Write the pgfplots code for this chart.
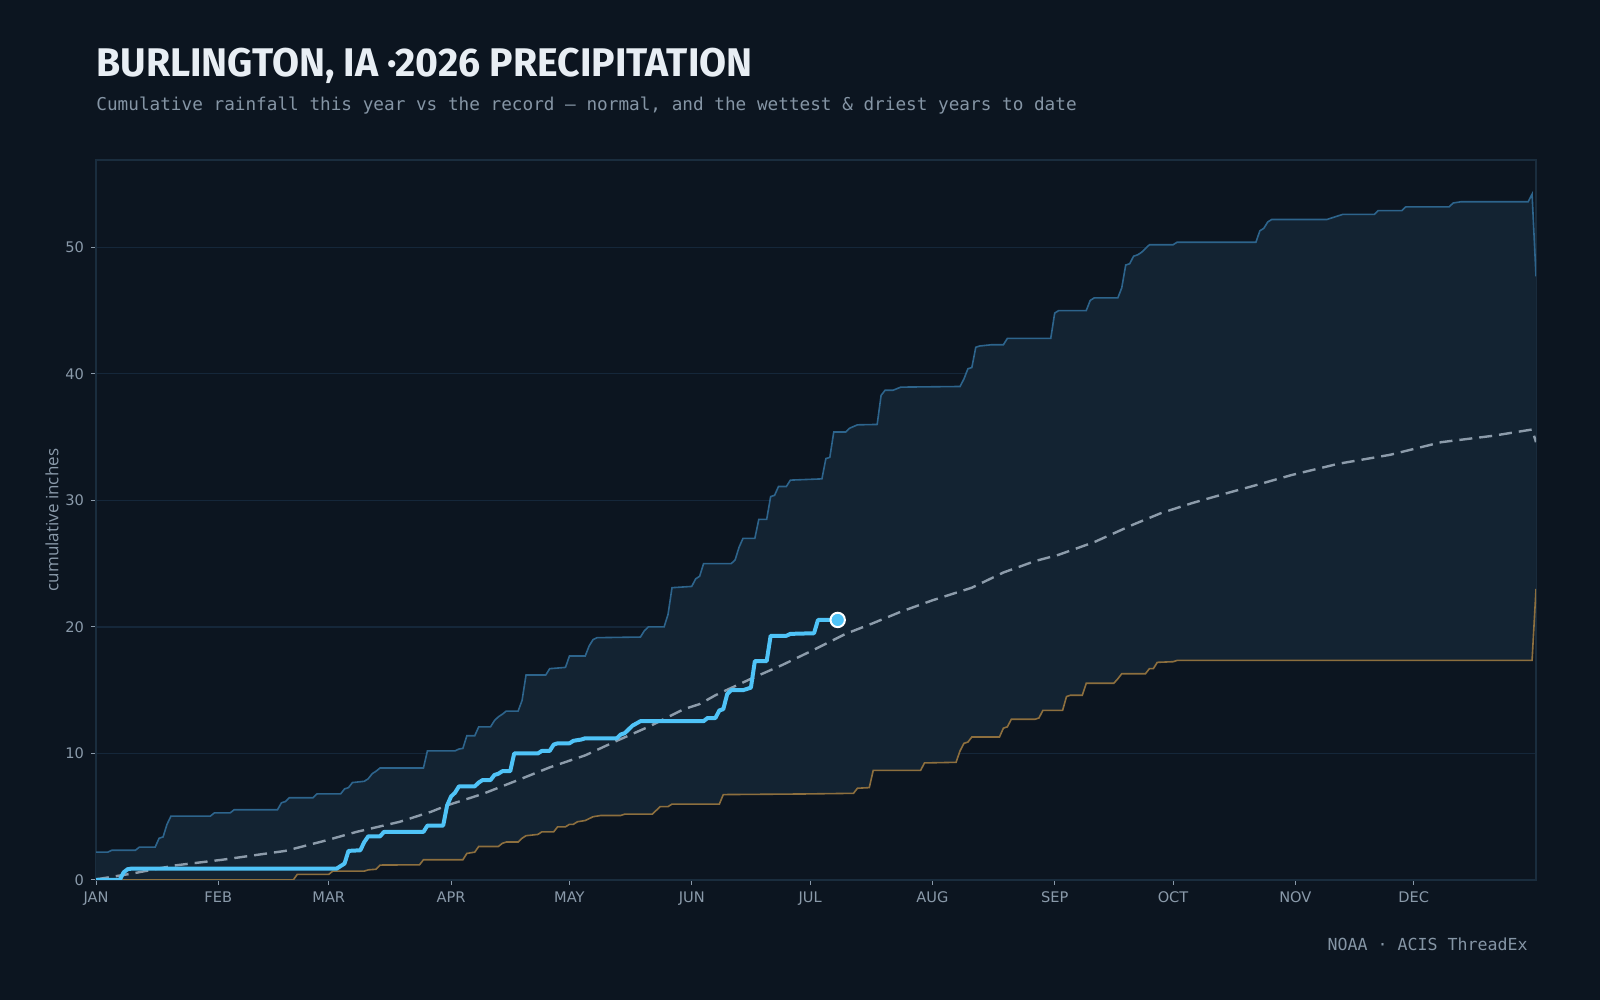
\documentclass[border=0pt]{standalone}
\usepackage{fontspec}
\usepackage{pgfplots}
\usepackage{pgfplotstable}
\pgfplotsset{compat=1.18}
\setmainfont{DejaVu Sans}
\newfontfamily\titlefont[FakeStretch=0.98]{Fira Sans}
\newfontfamily\monofont{DejaVu Sans Mono}
\newfontfamily\labelfont{Open Sans}

\definecolor{bg}{HTML}{0C1520}
\definecolor{band}{HTML}{132332}
\definecolor{gridc}{HTML}{15273A}
\definecolor{framec}{HTML}{1A2D3E}
\definecolor{wetc}{HTML}{2D648C}
\definecolor{dryc}{HTML}{8D6F3E}
\definecolor{normc}{HTML}{8C9BAA}
\definecolor{curc}{HTML}{4FC3F7}
\definecolor{tickc}{HTML}{8A9AAA}
\definecolor{titlec}{HTML}{E8EEF4}
\definecolor{subc}{HTML}{8595A5}

\pgfplotstableread{
d v
0 2.2
3 2.2
4 2.35
10 2.35
11 2.6
15 2.6
16 3.3
17 3.4
18 4.4
19 5.05
29 5.05
30 5.3
34 5.3
35 5.55
46 5.55
47 6.1
48 6.2
49 6.5
55 6.5
56 6.8
62 6.8
63 7.2
64 7.3
65 7.7
68 7.8
69 8.0
70 8.4
71 8.6
72 8.85
83 8.85
84 10.2
91 10.2
92 10.35
93 10.4
94 11.4
96 11.4
97 12.1
100 12.1
101 12.6
102 12.9
103 13.1
104 13.35
107 13.35
108 14.2
109 16.2
114 16.2
115 16.7
119 16.8
120 17.7
124 17.7
125 18.5
126 19.0
127 19.15
138 19.2
139 19.7
140 20.0
144 20.0
145 21.0
146 23.1
151 23.2
152 23.8
153 24.0
154 25.0
161 25.0
162 25.3
163 26.3
164 27.0
167 27.0
168 28.5
170 28.5
171 30.3
172 30.4
173 31.1
175 31.1
176 31.6
184 31.7
185 33.3
186 33.4
187 35.4
190 35.4
191 35.7
193 35.97
198 36.0
199 38.3
200 38.7
202 38.7
204 38.95
219 39.0
220 39.6
221 40.4
222 40.5
223 42.1
224 42.2
227 42.3
230 42.3
231 42.8
242 42.8
243 44.8
244 45.0
251 45.0
252 45.8
253 46.0
259 46.0
260 46.8
261 48.6
262 48.7
263 49.3
264 49.4
265 49.6
266 49.9
267 50.2
273 50.2
274 50.4
294 50.4
295 51.3
296 51.5
297 52.0
298 52.2
312 52.2
314 52.4
316 52.6
324 52.6
325 52.9
331 52.9
332 53.2
343 53.2
344 53.5
346 53.6
363 53.6
364 54.2
365 47.7
}\tabWet

\pgfplotstableread{
d v
0 0
50 0
51 0.44
59 0.44
60 0.7
68 0.7
69 0.8
71 0.85
72 1.18
82 1.2
83 1.6
93 1.6
94 2.1
96 2.2
97 2.65
102 2.65
103 2.9
104 3.0
107 3.0
108 3.3
109 3.5
112 3.6
113 3.8
116 3.8
117 4.2
119 4.2
120 4.4
121 4.4
122 4.6
124 4.7
126 5.0
128 5.1
133 5.1
134 5.2
141 5.2
142 5.5
143 5.8
145 5.8
146 6.0
158 6.0
159 6.75
180 6.8
192 6.85
193 7.25
196 7.3
197 8.66
209 8.66
210 9.25
218 9.3
219 10.2
220 10.8
221 10.9
222 11.3
229 11.3
230 12.0
231 12.1
232 12.7
238 12.7
239 12.8
240 13.4
245 13.4
246 14.5
247 14.6
250 14.6
251 15.55
258 15.55
259 15.9
260 16.3
266 16.3
267 16.7
268 16.7
269 17.2
273 17.25
274 17.35
364 17.35
365 23.0
}\tabDry

% record band: wettest curve forward, driest curve back
\pgfplotstableread{
d v
0 2.2
3 2.2
4 2.35
10 2.35
11 2.6
15 2.6
16 3.3
17 3.4
18 4.4
19 5.05
29 5.05
30 5.3
34 5.3
35 5.55
46 5.55
47 6.1
48 6.2
49 6.5
55 6.5
56 6.8
62 6.8
63 7.2
64 7.3
65 7.7
68 7.8
69 8.0
70 8.4
71 8.6
72 8.85
83 8.85
84 10.2
91 10.2
92 10.35
93 10.4
94 11.4
96 11.4
97 12.1
100 12.1
101 12.6
102 12.9
103 13.1
104 13.35
107 13.35
108 14.2
109 16.2
114 16.2
115 16.7
119 16.8
120 17.7
124 17.7
125 18.5
126 19.0
127 19.15
138 19.2
139 19.7
140 20.0
144 20.0
145 21.0
146 23.1
151 23.2
152 23.8
153 24.0
154 25.0
161 25.0
162 25.3
163 26.3
164 27.0
167 27.0
168 28.5
170 28.5
171 30.3
172 30.4
173 31.1
175 31.1
176 31.6
184 31.7
185 33.3
186 33.4
187 35.4
190 35.4
191 35.7
193 35.97
198 36.0
199 38.3
200 38.7
202 38.7
204 38.95
219 39.0
220 39.6
221 40.4
222 40.5
223 42.1
224 42.2
227 42.3
230 42.3
231 42.8
242 42.8
243 44.8
244 45.0
251 45.0
252 45.8
253 46.0
259 46.0
260 46.8
261 48.6
262 48.7
263 49.3
264 49.4
265 49.6
266 49.9
267 50.2
273 50.2
274 50.4
294 50.4
295 51.3
296 51.5
297 52.0
298 52.2
312 52.2
314 52.4
316 52.6
324 52.6
325 52.9
331 52.9
332 53.2
343 53.2
344 53.5
346 53.6
363 53.6
364 54.2
365 47.7
365 23.0
364 17.35
274 17.35
273 17.25
269 17.2
268 16.7
267 16.7
266 16.3
260 16.3
259 15.9
258 15.55
251 15.55
250 14.6
247 14.6
246 14.5
245 13.4
240 13.4
239 12.8
238 12.7
232 12.7
231 12.1
230 12.0
229 11.3
222 11.3
221 10.9
220 10.8
219 10.2
218 9.3
210 9.25
209 8.66
197 8.66
196 7.3
193 7.25
192 6.85
180 6.8
159 6.75
158 6.0
146 6.0
145 5.8
143 5.8
142 5.5
141 5.2
134 5.2
133 5.1
128 5.1
126 5.0
124 4.7
122 4.6
121 4.4
120 4.4
119 4.2
117 4.2
116 3.8
113 3.8
112 3.6
109 3.5
108 3.3
107 3.0
104 3.0
103 2.9
102 2.65
97 2.65
96 2.2
94 2.1
93 1.6
83 1.6
82 1.2
72 1.18
71 0.85
69 0.8
68 0.7
60 0.7
59 0.44
51 0.44
50 0
0 0
}\tabBand

\pgfplotstableread{
d v
0 0.05
9 0.5
20 1.15
32 1.6
48 2.3
58 3.1
66 3.8
77 4.6
85 5.4
89 5.9
98 6.8
107 7.9
115 8.9
124 9.85
132 11.0
140 12.1
149 13.5
153 13.9
157 14.6
166 15.9
174 17.0
182 18.2
190 19.45
197 20.3
204 21.2
212 22.1
222 23.1
230 24.3
238 25.2
244 25.7
253 26.7
263 28.1
270 29.0
278 29.8
287 30.6
294 31.2
303 32.0
315 32.9
328 33.6
341 34.6
354 35.1
364 35.6
365 34.6
}\tabNorm

\pgfplotstableread{
d v
0 0
6 0
7 0.6
8 0.85
9 0.9
61 0.9
62 1.1
63 1.3
64 2.3
67 2.35
68 3.0
69 3.45
72 3.45
73 3.8
83 3.8
84 4.3
88 4.3
89 5.9
90 6.6
91 6.9
92 7.4
96 7.4
97 7.7
98 7.9
100 7.9
101 8.3
102 8.4
103 8.6
105 8.6
106 10.0
112 10.0
113 10.2
115 10.2
116 10.7
117 10.8
120 10.8
121 11.0
123 11.1
124 11.2
132 11.2
133 11.5
134 11.6
136 12.2
138 12.55
154 12.55
155 12.8
157 12.8
158 13.4
159 13.5
160 14.7
161 15.0
164 15.0
165 15.1
166 15.2
167 17.3
170 17.3
171 19.3
175 19.3
176 19.45
182 19.5
183 20.55
188 20.55
}\tabCur

\pgfplotstableread{
d v
188 20.55
}\tabNow

\begin{document}
\begin{tikzpicture}
\fill[bg] (0,0) rectangle (800pt,500pt);

\node[anchor=base west, inner sep=0, text=titlec, font=\titlefont\bfseries\fontsize{20}{24}\selectfont] at (48pt,461.75pt) {BURLINGTON, IA ·2026 PRECIPITATION};
\node[anchor=west, inner sep=0, text=subc, font=\monofont\fontsize{8.85}{11}\selectfont] at (48pt,447pt) {Cumulative rainfall this year vs the record — normal, and the wettest \& driest years to date};
\node[anchor=east, inner sep=0, text=subc, font=\monofont\fontsize{8.3}{10}\selectfont] at (764pt,28pt) {NOAA · ACIS ThreadEx};

\begin{axis}[
  at={(48pt,60pt)}, anchor=south west,
  scale only axis, width=720pt, height=360pt,
  xmin=0, xmax=365, ymin=0, ymax=56.9,
  axis on top=false,
  axis line style={framec, line width=0.8pt},
  tick style={tickc, line width=0.5pt},
  tick align=outside, major tick length=2.5pt,
  xtick pos=bottom, ytick pos=left,
  xtick={0,31,59,90,120,151,181,212,243,273,304,334},
  xticklabels={JAN,FEB,MAR,APR,MAY,JUN,JUL,AUG,SEP,OCT,NOV,DEC},
  ytick={0,10,20,30,40,50},
  ymajorgrids, grid style={gridc, line width=0.6pt},
  ticklabel style={font=\fontsize{7.3}{8}\selectfont, text=tickc},
  /pgf/number format/assume math mode=true,
  ylabel={cumulative inches},
  ylabel style={at={(axis description cs:-0.0306,0.5)}, anchor=center, font=\labelfont\fontsize{8.5}{10}\selectfont, text=tickc},
]
\addplot[fill=band, draw=none, forget plot] table[x=d,y=v] {\tabBand};
\addplot[wetc, line width=0.8pt] table[x=d,y=v] {\tabWet};
\addplot[dryc, line width=0.8pt] table[x=d,y=v] {\tabDry};
\addplot[normc, line width=1.2pt, dash pattern=on 6.5pt off 3.5pt] table[x=d,y=v] {\tabNorm};
\addplot[curc, line width=2pt, line join=round, line cap=round] table[x=d,y=v] {\tabCur};
\addplot[only marks, mark=*, mark size=3.6pt, mark options={fill=curc, draw=white, line width=1pt}] table[x=d,y=v] {\tabNow};
\end{axis}
\useasboundingbox (0,0) rectangle (800pt,500pt);
\end{tikzpicture}
\end{document}
